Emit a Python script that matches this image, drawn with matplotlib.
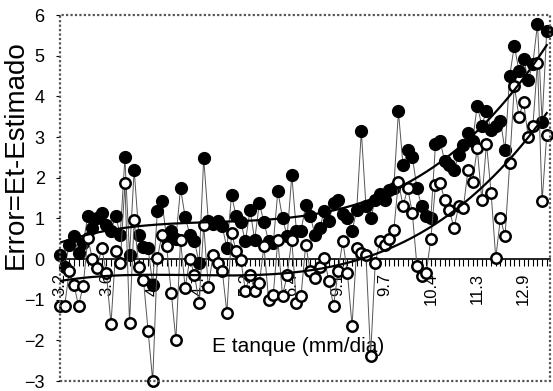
import matplotlib.pyplot as plt
from matplotlib.patches import Rectangle
import numpy as np

plt.rcParams['font.family'] = ['Liberation Sans', 'DejaVu Sans']

# error of the estimate (Et - estimated), one value per tank-evaporation category
err_filled = [0.1, -0.2, 0.35, 0.56, 0.15, 0.39, 1.05, 0.76, 1.0, 1.13,
              0.83, 0.7, 1.05, 0.6, 2.5, 0.1, 2.2, 0.6, 0.3, 0.27,
              -0.63, 1.17, 1.42, 0.5, 0.7, 0.5, 1.74, 1.03, 0.6, 0.44,
              -0.1, 2.48, 0.93, 0.85, 0.93, 0.8, 0.27, 1.57, 1.05, 0.9,
              0.44, 1.2, 0.47, 1.37, 0.9, 0.44, 0.39, 1.67, 1.0, 0.56,
              2.06, 0.69, 0.69, 1.33, 1.05, 0.6, 0.76, 1.17, 0.93, 1.37,
              1.45, 1.1, 1.0, 0.69, 1.2, 3.14, 1.3, 1.0, 1.45, 1.6,
              1.45, 1.7, 1.74, 3.63, 2.3, 2.67, 2.52, 1.74, 1.3, 1.05,
              1.0, 2.84, 2.89, 2.4, 2.3, 2.18, 2.55, 2.8, 3.09, 2.9,
              3.77, 3.28, 3.65, 3.16, 3.28, 3.4, 2.67, 4.5, 5.24, 4.63,
              4.93, 4.4, 4.8, 5.78, 3.38, 5.61]

err_open = [-1.15, -1.15, -0.3, -0.63, -1.15, -0.66, 0.51, 0.0, -0.22, 0.27,
            -0.34, -1.6, 0.2, -0.1, 1.86, -1.57, 0.96, -0.2, -0.51, -1.76,
            -3.0, 0.02, 0.6, 0.32, -0.83, -2.0, 0.47, -0.71, 0.0, -0.39,
            -1.08, 0.83, -0.7, 0.1, -0.1, -0.29, -1.32, 0.64, 0.2, -0.02,
            -0.78, -0.39, -0.78, -0.59, 0.32, -1.0, -0.88, 0.47, -0.9, -0.39,
            0.47, -1.08, -0.9, 0.35, -0.3, -0.47, -0.2, 0.02, -0.54, -1.15,
            -0.3, 0.44, -0.34, -1.64, 0.27, 0.15, 0.1, -2.38, -0.1, 0.44,
            0.35, 0.5, 0.71, 1.9, 1.3, 1.74, 1.13, -0.17, -0.42, -0.34,
            0.5, 1.81, 1.86, 1.45, 1.2, 0.76, 1.3, 1.25, 2.18, 1.9,
            2.72, 1.45, 2.84, 1.62, 0.02, 1.0, 0.56, 2.35, 4.26, 3.5,
            3.87, 3.0, 3.26, 4.83, 1.42, 3.06]

tick_labels = ['3.2', '3.6', '4.1', '4.7', '5.2', '6.4', '9.1', '9.7', '10.4', '11.3', '12.9']

x = np.arange(len(err_filled))

fig = plt.figure(figsize=(5.53, 3.91), dpi=100)
ax = fig.add_axes([60 / 553, 10 / 391, 490 / 553, 366 / 391])

# series with thin connecting lines
ax.plot(x, err_filled, color='#555555', lw=0.7, marker='o', ms=8.5,
        mfc='black', mec='black', zorder=3, clip_on=False)
ax.plot(x, err_open, color='#555555', lw=0.7, marker='o', ms=7.5,
        mfc='white', mec='black', mew=1.8, zorder=4, clip_on=False)

# polynomial trend lines (order 3)
for ser in (err_filled, err_open):
    coef = np.polyfit(x, ser, 3)
    xs = np.linspace(x[0], x[-1], 200)
    ax.plot(xs, np.polyval(coef, xs), color='black', lw=1.6, zorder=5)

ax.set_xlim(0, 105.7)
ax.set_ylim(-3, 6)
ax.set_axisbelow(True)

for s in ('top', 'right', 'left'):
    ax.spines[s].set_visible(False)
ax.spines['bottom'].set_position(('data', 0))
ax.spines['bottom'].set_linewidth(1.2)

ax.set_xticks(np.arange(0, 101, 10))
ax.set_xticklabels(tick_labels, rotation=90, fontsize=12)
ax.set_xticks(x, minor=True)
ax.tick_params(axis='x', which='both', direction='out', length=5, width=0.8, pad=5)

ax.set_yticks(np.arange(-3, 7, 1))
ax.tick_params(axis='y', direction='out', length=3, width=0.8, labelsize=13, pad=8)

# dotted frame around plot area
ax.add_patch(Rectangle((0, 0), 1, 1, transform=ax.transAxes, fill=False,
                       edgecolor='#555555', lw=1.6, linestyle=(0, (1, 1)),
                       clip_on=False, zorder=6))

ax.text(0.486, 0.093, 'E tanque (mm/dia)', transform=ax.transAxes,
        ha='center', va='center', fontsize=15)
fig.text(0.029, 0.605, 'Error=Et-Estimado', rotation=90,
         ha='center', va='center', fontsize=20)

fig.savefig('out.png', dpi=100)
